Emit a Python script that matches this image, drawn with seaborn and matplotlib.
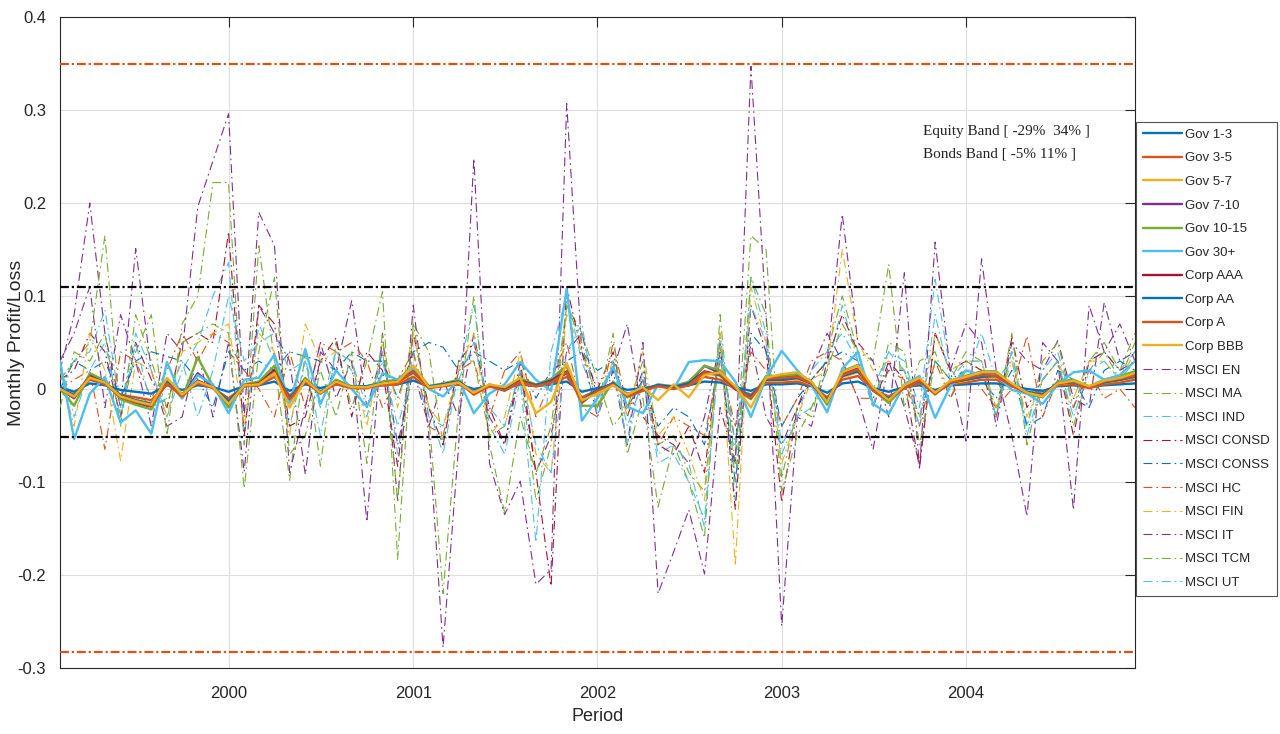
import numpy as np
import pandas as pd
import matplotlib
matplotlib.use("Agg")
import matplotlib.pyplot as plt
from matplotlib.ticker import FuncFormatter, MultipleLocator
from matplotlib.lines import Line2D
import seaborn as sns

# ---------------- data ----------------
dates = pd.date_range("1999-02-01", periods=71, freq="MS")

series_names = ["Gov 1-3", "Gov 3-5", "Gov 5-7", "Gov 7-10", "Gov 10-15", "Gov 30+",
                "Corp AAA", "Corp AA", "Corp A", "Corp BBB",
                "MSCI EN", "MSCI MA", "MSCI IND", "MSCI CONSD", "MSCI CONSS",
                "MSCI HC", "MSCI FIN", "MSCI IT", "MSCI TCM", "MSCI UT"]

gov_1_3 = [0.002, -0.003, 0.006, 0.004, -0.001, -0.003, -0.005, 0.004, -0.001, 0.004,
           0.002, -0.003, 0.003, 0.004, 0.008, -0.002, 0.005, 0.001, 0.005, 0.003,
           0.003, 0.004, 0.005, 0.009, 0.003, 0.004, 0.005, 0.000, 0.003, 0.001,
           0.005, 0.003, 0.005, 0.008, -0.003, 0.001, 0.004, -0.001, 0.001, 0.003,
           0.003, 0.004, 0.008, 0.007, 0.002, -0.002, 0.005, 0.005, 0.006, 0.003,
           -0.004, 0.006, 0.008, 0.001, -0.003, 0.002, 0.004, -0.001, 0.004, 0.005,
           0.006, 0.006, 0.003, 0.000, -0.002, 0.003, 0.004, 0.002, 0.004, 0.005,
           0.006]
gov_3_5 = [0.000, -0.006, 0.010, 0.005, -0.006, -0.009, -0.012, 0.005, -0.005, 0.006,
           0.001, -0.010, 0.003, 0.004, 0.013, -0.007, 0.007, -0.003, 0.005, 0.001,
           0.002, 0.004, 0.005, 0.013, 0.001, 0.003, 0.005, -0.003, 0.003, -0.001,
           0.006, 0.003, 0.006, 0.013, -0.009, -0.001, 0.004, -0.005, -0.001, 0.003,
           0.001, 0.004, 0.013, 0.010, 0.000, -0.006, 0.007, 0.007, 0.008, 0.004,
           -0.009, 0.010, 0.014, -0.001, -0.008, 0.001, 0.006, -0.003, 0.005, 0.007,
           0.010, 0.010, 0.003, -0.003, -0.005, 0.004, 0.005, 0.001, 0.005, 0.007,
           0.010]
gov_5_7 = [0.000, -0.008, 0.012, 0.006, -0.008, -0.012, -0.015, 0.006, -0.007, 0.008,
           0.002, -0.014, 0.003, 0.005, 0.017, -0.009, 0.009, -0.003, 0.007, 0.002,
           0.002, 0.005, 0.007, 0.017, 0.002, 0.004, 0.007, -0.004, 0.003, -0.001,
           0.008, 0.003, 0.008, 0.017, -0.012, -0.001, 0.005, -0.006, -0.001, 0.003,
           0.002, 0.005, 0.017, 0.014, 0.000, -0.008, 0.009, 0.009, 0.011, 0.005,
           -0.012, 0.013, 0.018, -0.001, -0.010, 0.002, 0.008, -0.004, 0.006, 0.009,
           0.013, 0.013, 0.003, -0.003, -0.006, 0.005, 0.007, 0.002, 0.007, 0.009,
           0.013]
gov_7_10 = [0.000, -0.010, 0.015, 0.007, -0.009, -0.015, -0.019, 0.008, -0.008, 0.017,
            0.002, -0.017, 0.004, 0.006, 0.021, -0.012, 0.011, -0.004, 0.008, 0.002,
            0.002, 0.006, 0.008, 0.021, 0.002, 0.005, 0.008, -0.005, 0.004, -0.001,
            0.010, 0.004, 0.010, 0.025, -0.015, -0.001, 0.006, -0.007, -0.001, 0.004,
            0.002, 0.006, 0.025, 0.017, 0.000, -0.009, 0.012, 0.012, 0.014, 0.006,
            -0.015, 0.016, 0.022, -0.001, -0.013, 0.002, 0.009, -0.005, 0.007, 0.012,
            0.016, 0.016, 0.004, -0.004, -0.007, 0.006, 0.008, 0.002, 0.008, 0.012,
            0.016]
gov_10_15 = [0.000, -0.018, 0.017, 0.009, -0.011, -0.017, -0.022, 0.009, -0.010, 0.034,
             0.003, -0.020, 0.005, 0.008, 0.025, -0.014, 0.012, -0.005, 0.010, 0.003,
             0.003, 0.008, 0.010, 0.025, 0.003, 0.006, 0.010, -0.006, 0.005, -0.001,
             0.011, 0.005, 0.011, 0.025, -0.018, -0.018, 0.008, -0.009, -0.001, 0.005,
             0.003, 0.008, 0.025, 0.020, 0.000, -0.011, 0.014, 0.014, 0.016, 0.008,
             -0.017, 0.019, 0.026, -0.001, -0.015, 0.003, 0.011, -0.006, 0.009, 0.014,
             0.019, 0.019, 0.005, -0.005, -0.009, 0.008, 0.010, 0.003, 0.010, 0.014,
             0.019]
gov_30 = [0.030, -0.054, -0.005, 0.013, -0.036, -0.023, -0.048, 0.029, -0.010, 0.015,
          0.005, -0.026, 0.010, 0.012, 0.037, -0.015, 0.043, -0.016, 0.020, 0.000,
          -0.019, 0.017, 0.010, 0.022, 0.000, -0.008, 0.010, -0.026, -0.005, 0.005,
          0.029, 0.010, -0.002, 0.108, -0.034, -0.010, 0.024, -0.019, -0.026, 0.005,
          0.000, 0.029, 0.031, 0.030, 0.008, -0.030, 0.012, 0.041, 0.020, 0.004,
          -0.025, 0.022, 0.040, -0.016, -0.027, 0.005, 0.014, -0.031, 0.003, 0.020,
          0.015, 0.015, -0.001, -0.005, -0.016, 0.005, 0.018, 0.020, 0.010, 0.015,
          0.030]
corp_aaa = [0.000, -0.008, 0.013, 0.007, -0.008, -0.013, -0.017, 0.007, -0.007, 0.009,
            0.002, -0.015, 0.004, 0.006, 0.019, -0.010, 0.010, -0.004, 0.008, 0.002,
            0.002, 0.006, 0.008, 0.019, 0.002, 0.005, 0.008, -0.005, 0.004, -0.001,
            0.009, 0.004, 0.009, 0.019, -0.013, -0.001, 0.006, -0.007, -0.001, 0.004,
            0.002, 0.006, 0.019, 0.015, 0.000, -0.009, 0.010, 0.010, 0.012, 0.006,
            -0.013, 0.014, 0.020, -0.001, -0.011, 0.002, 0.009, -0.005, 0.007, 0.010,
            0.014, 0.014, 0.004, -0.004, -0.007, 0.006, 0.008, 0.002, 0.008, 0.010,
            0.014]
corp_aa = [0.001, -0.007, 0.012, 0.006, -0.007, -0.012, -0.016, 0.007, -0.006, 0.008,
           0.002, -0.013, 0.004, 0.005, 0.017, -0.009, 0.009, -0.003, 0.007, 0.002,
           0.003, 0.006, 0.008, 0.018, 0.003, 0.005, 0.008, -0.004, 0.004, 0.000,
           0.008, 0.004, 0.008, 0.017, -0.012, -0.001, 0.006, -0.006, 0.000, 0.004,
           0.002, 0.006, 0.018, 0.015, 0.001, -0.008, 0.010, 0.010, 0.012, 0.006,
           -0.012, 0.014, 0.019, 0.000, -0.010, 0.002, 0.008, -0.004, 0.007, 0.010,
           0.013, 0.014, 0.004, -0.003, -0.006, 0.006, 0.007, 0.002, 0.007, 0.010,
           0.013]
corp_a = [0.000, -0.009, 0.013, 0.006, -0.009, -0.014, -0.018, 0.006, -0.008, 0.008,
          0.001, -0.016, 0.003, 0.005, 0.018, -0.011, 0.009, -0.005, 0.007, 0.001,
          0.001, 0.005, 0.007, 0.019, 0.001, 0.004, 0.007, -0.006, 0.003, -0.002,
          0.008, 0.003, 0.007, 0.018, -0.014, -0.002, 0.005, -0.008, -0.002, 0.003,
          0.000, 0.004, 0.018, 0.016, 0.001, -0.010, 0.011, 0.012, 0.013, 0.006,
          -0.014, 0.015, 0.021, -0.002, -0.012, 0.001, 0.009, -0.005, 0.007, 0.011,
          0.015, 0.014, 0.003, -0.004, -0.007, 0.005, 0.008, 0.001, 0.008, 0.011,
          0.014]
corp_bbb = [0.000, -0.008, 0.012, 0.007, -0.008, -0.013, -0.017, 0.012, -0.006, 0.008,
            0.002, -0.016, 0.004, 0.005, 0.017, -0.020, 0.010, -0.004, 0.008, 0.002,
            0.002, 0.006, 0.008, 0.025, 0.002, 0.004, 0.007, -0.004, 0.005, 0.002,
            0.012, -0.026, -0.014, 0.028, -0.012, -0.005, 0.004, -0.006, 0.002, -0.012,
            0.005, -0.009, 0.015, 0.018, 0.003, -0.020, 0.012, 0.016, 0.018, 0.008,
            -0.014, 0.018, 0.025, 0.002, -0.012, 0.004, 0.012, -0.004, 0.009, 0.013,
            0.018, 0.018, 0.006, -0.004, -0.008, 0.006, 0.009, 0.003, 0.009, 0.012,
            0.017]
msci_en = [0.020, 0.080, 0.200, 0.060, -0.020, 0.151, 0.020, -0.040, -0.030, 0.040,
           -0.030, 0.050, -0.089, 0.090, 0.060, 0.030, -0.092, 0.040, 0.020, 0.095,
           -0.020, 0.040, -0.060, 0.020, -0.040, 0.010, -0.030, 0.060, -0.030, -0.060,
           0.020, -0.090, -0.050, 0.040, 0.060, -0.010, 0.020, 0.070, -0.030, -0.050,
           -0.060, -0.080, -0.030, 0.050, -0.060, 0.050, -0.030, -0.060, -0.020, 0.020,
           0.060, 0.030, -0.010, -0.065, 0.030, -0.020, -0.080, 0.060, 0.020, 0.070,
           0.050, -0.040, 0.050, 0.030, 0.020, 0.052, -0.010, -0.020, 0.093, 0.030,
           0.040]
msci_ma = [0.010, 0.030, 0.050, 0.165, -0.030, 0.040, 0.080, -0.050, 0.070, 0.100,
           0.222, 0.222, -0.060, 0.154, 0.030, -0.098, 0.040, -0.083, 0.050, -0.020,
           0.030, 0.105, -0.183, 0.070, 0.040, -0.060, 0.030, 0.030, -0.050, -0.040,
           0.020, -0.120, -0.060, 0.090, 0.060, 0.010, -0.040, -0.020, 0.030, -0.060,
           -0.050, -0.090, -0.110, 0.060, -0.080, 0.165, 0.150, -0.096, -0.020, -0.030,
           0.040, 0.100, 0.040, 0.030, 0.134, -0.020, 0.030, 0.040, -0.010, 0.030,
           0.020, -0.020, 0.040, -0.040, 0.030, 0.050, -0.020, 0.030, 0.050, 0.020,
           0.060]
msci_ind = [0.010, 0.030, 0.040, 0.085, -0.020, 0.060, 0.020, -0.030, 0.020, 0.050,
            0.100, 0.136, -0.050, 0.070, 0.030, -0.040, 0.030, -0.050, 0.040, 0.020,
            -0.030, 0.040, -0.070, 0.040, -0.020, -0.070, 0.020, 0.090, -0.040, -0.070,
            0.010, -0.165, 0.040, 0.100, 0.030, -0.020, 0.030, -0.040, 0.010, -0.070,
            -0.060, -0.080, -0.149, 0.060, -0.120, 0.120, 0.060, -0.060, -0.030, -0.020,
            0.020, 0.090, 0.030, 0.000, 0.040, 0.030, -0.020, 0.118, 0.020, 0.010,
            0.060, 0.010, 0.030, -0.040, 0.020, 0.040, -0.020, 0.030, 0.040, 0.020,
            0.040]
msci_consd = [0.010, 0.020, 0.060, 0.040, -0.030, 0.050, 0.010, -0.020, 0.050, 0.060,
              0.050, 0.169, -0.050, 0.090, 0.070, -0.040, -0.030, 0.030, 0.055, -0.030,
              0.040, 0.020, -0.083, 0.060, -0.020, -0.060, 0.030, 0.050, -0.020, -0.060,
              0.030, -0.090, -0.212, 0.110, 0.040, 0.000, 0.040, -0.030, 0.020, -0.060,
              -0.070, -0.040, -0.090, 0.050, -0.130, 0.090, 0.040, -0.122, -0.020, 0.010,
              0.030, 0.080, 0.040, -0.020, 0.030, 0.010, -0.085, 0.060, 0.020, 0.030,
              0.020, -0.030, 0.055, -0.020, 0.010, 0.030, -0.050, 0.030, 0.040, 0.020,
              0.030]
msci_conss = [0.000, 0.030, 0.020, 0.030, -0.010, 0.030, 0.040, 0.035, 0.030, 0.010,
              -0.020, 0.040, 0.020, 0.030, 0.020, 0.040, 0.035, 0.030, 0.020, 0.040,
              0.030, 0.030, -0.010, 0.040, 0.050, 0.045, 0.020, 0.040, 0.030, 0.020,
              0.030, -0.010, 0.020, 0.030, 0.040, 0.020, 0.030, -0.020, 0.010, -0.040,
              -0.020, -0.030, -0.060, 0.040, -0.100, 0.060, 0.040, -0.040, -0.010, 0.010,
              0.030, 0.040, 0.030, -0.010, 0.020, 0.020, -0.030, 0.030, 0.010, 0.020,
              0.010, -0.010, 0.020, -0.040, -0.030, 0.020, 0.010, -0.020, 0.020, 0.030,
              0.020]
msci_hc = [0.000, 0.010, 0.020, -0.065, 0.040, 0.030, -0.010, 0.020, 0.060, 0.030,
           0.060, 0.050, 0.020, 0.000, -0.030, 0.040, -0.020, 0.050, 0.040, 0.050,
           0.030, -0.020, 0.010, 0.040, -0.040, -0.050, 0.020, 0.030, -0.030, 0.020,
           0.040, -0.030, 0.010, 0.050, -0.020, -0.030, 0.050, -0.020, 0.010, -0.060,
           -0.030, -0.040, -0.050, 0.030, -0.040, 0.040, 0.020, -0.040, -0.010, 0.030,
           0.040, 0.030, -0.010, -0.010, 0.020, 0.010, -0.040, 0.030, -0.010, 0.020,
           0.000, -0.020, 0.000, 0.057, -0.030, 0.010, -0.020, 0.020, -0.010, 0.000,
           -0.020]
msci_fin = [0.020, -0.040, 0.060, 0.020, -0.077, 0.030, 0.020, -0.030, 0.040, 0.050,
            0.060, 0.070, -0.040, 0.060, 0.040, -0.050, 0.070, 0.030, 0.040, 0.030,
            -0.040, 0.050, -0.020, 0.060, -0.020, -0.040, 0.020, 0.060, -0.050, -0.030,
            0.040, -0.070, -0.090, 0.080, 0.040, -0.010, 0.030, -0.030, 0.040, -0.050,
            -0.030, -0.070, -0.120, 0.060, -0.190, 0.110, 0.050, -0.080, -0.030, 0.010,
            0.020, 0.150, 0.050, 0.020, 0.030, 0.020, -0.030, 0.060, 0.020, 0.030,
            0.030, -0.020, 0.030, -0.030, 0.010, 0.030, -0.010, 0.030, 0.030, 0.010,
            0.040]
msci_it = [0.030, 0.060, 0.110, -0.020, 0.080, 0.030, -0.040, 0.060, 0.040, 0.196,
           0.245, 0.296, -0.030, 0.190, 0.154, -0.090, -0.020, 0.050, -0.010, 0.030,
           -0.143, 0.060, -0.120, 0.090, -0.050, -0.278, -0.060, 0.248, -0.080, -0.135,
           -0.099, -0.210, -0.194, 0.307, 0.040, -0.030, 0.020, -0.060, 0.050, -0.220,
           -0.175, -0.130, -0.199, -0.020, -0.080, 0.347, 0.080, -0.255, -0.030, -0.040,
           0.030, 0.188, 0.050, 0.030, -0.030, 0.125, -0.085, 0.158, 0.020, -0.056,
           0.140, 0.020, -0.050, -0.137, 0.050, 0.030, -0.130, 0.090, 0.040, 0.070,
           0.030]
msci_tcm = [-0.020, 0.040, 0.030, 0.060, -0.040, 0.080, 0.030, -0.020, 0.050, 0.060,
            0.070, 0.060, -0.107, 0.040, 0.120, -0.070, -0.050, 0.020, -0.030, 0.040,
            -0.080, 0.060, -0.120, 0.070, -0.030, -0.220, -0.020, 0.100, -0.060, -0.133,
            -0.030, -0.090, -0.040, 0.090, 0.050, -0.020, 0.060, -0.070, -0.010, -0.127,
            -0.060, -0.100, -0.160, 0.080, -0.100, 0.120, 0.080, -0.110, -0.050, -0.020,
            0.020, 0.070, 0.040, -0.020, 0.050, 0.040, -0.060, 0.030, 0.010, 0.040,
            0.030, -0.030, 0.060, -0.060, 0.010, 0.030, -0.040, 0.020, 0.040, 0.010,
            0.050]
msci_ut = [0.030, -0.030, 0.020, 0.050, -0.030, 0.050, -0.020, -0.010, 0.030, -0.030,
           0.020, 0.100, 0.030, 0.050, 0.060, 0.020, 0.030, -0.020, 0.040, 0.030,
           -0.020, 0.030, -0.040, 0.020, -0.030, -0.040, 0.010, 0.050, -0.020, -0.040,
           0.020, -0.060, -0.090, 0.040, 0.070, -0.030, 0.030, -0.060, 0.020, -0.080,
           -0.070, -0.100, -0.140, 0.050, -0.060, 0.090, 0.050, -0.070, -0.030, 0.020,
           0.040, 0.060, 0.030, -0.020, 0.040, 0.020, -0.040, 0.080, 0.010, 0.030,
           0.030, -0.030, 0.040, -0.050, 0.010, 0.030, -0.030, 0.020, 0.030, 0.010,
           0.030]

series_values = [gov_1_3, gov_3_5, gov_5_7, gov_7_10, gov_10_15, gov_30,
                 corp_aaa, corp_aa, corp_a, corp_bbb,
                 msci_en, msci_ma, msci_ind, msci_consd, msci_conss,
                 msci_hc, msci_fin, msci_it, msci_tcm, msci_ut]

equity_band = [-0.283, 0.35]
bond_band = [-0.052, 0.11]
band_text = "Equity Band [ -29%  34% ]\nBonds Band [ -5% 11% ]"
year_ticks = ["2000", "2001", "2002", "2003", "2004"]

# ---------------- style ----------------
sns.set_style("white")
plt.rcParams["font.family"] = ["Liberation Sans", "DejaVu Sans"]

matlab = ["#0072BD", "#D95319", "#EDB120", "#7E2F8E", "#77AC30", "#4DBEEE", "#A2142F"]
colors = [matlab[i % 7] for i in range(len(series_names))]
txt_col = "#262626"

fig = plt.figure(figsize=(12.8, 7.34), dpi=100)
ax = fig.add_axes([60 / 1280, 66 / 734, 1075 / 1280, 651 / 734])

frames = []
for name, vals in zip(series_names, series_values):
    frames.append(pd.DataFrame({"date": dates, "value": vals, "series": name}))
df = pd.concat(frames, ignore_index=True)

handles = []
for k, name in enumerate(series_names):
    sub = df[df["series"] == name]
    if k < 10:
        kw = dict(lw=1.7, linestyle="-", zorder=4)
    else:
        kw = dict(lw=0.8, linestyle=(0, (8, 3.5, 1.5, 3.5)), zorder=3)
    sns.lineplot(data=sub, x="date", y="value", ax=ax, color=colors[k],
                 legend=False, errorbar=None, **kw)
    handles.append(Line2D([0], [0], color=colors[k],
                          **{kk: v for kk, v in kw.items() if kk != "zorder"}))

band_ls = (0, (4, 1.3, 1, 1.3))
for v in equity_band:
    ax.axhline(v, color="#D95319", lw=1.6, linestyle=band_ls, zorder=6)
for v in bond_band:
    ax.axhline(v, color="black", lw=1.6, linestyle=band_ls, zorder=6)

ax.set_xlim(dates[0], dates[-1])
ax.set_ylim(-0.3, 0.4)
ax.yaxis.set_major_locator(MultipleLocator(0.1))
ax.yaxis.set_major_formatter(FuncFormatter(lambda v, p: "%g" % round(v, 2)))
ax.set_xticks([pd.Timestamp(y + "-01-01") for y in year_ticks])
ax.set_xticklabels(year_ticks)

ax.grid(True, color="#dedede", lw=0.8)
ax.set_axisbelow(True)
for s in ax.spines.values():
    s.set_color(txt_col)
    s.set_linewidth(0.8)
ax.tick_params(axis="both", direction="in", length=7, width=0.8, colors=txt_col,
               labelsize=12, top=True, right=True)
ax.tick_params(axis="x", pad=13)
ax.tick_params(axis="y", pad=10)

ax.set_xlabel("Period", fontsize=13, color=txt_col)
ax.set_ylabel("Monthly Profit/Loss", fontsize=14, color=txt_col)
ax.xaxis.set_label_coords(0.5, -0.062)
ax.yaxis.set_label_coords(-0.033, 0.5)

ax.text(0.803, 0.834, band_text, transform=ax.transAxes, ha="left", va="top",
        fontsize=11, family=["Liberation Serif", "DejaVu Serif"], color="#222222",
        linespacing=1.9, zorder=7)

leg = fig.legend(handles, series_names, loc="upper left",
                 bbox_to_anchor=(1136 / 1280, 1 - 122 / 734),
                 bbox_transform=fig.transFigure, fontsize=9.5, frameon=True,
                 fancybox=False, handlelength=3.0, handletextpad=0.25,
                 labelspacing=0.86, borderpad=0.5, borderaxespad=0)
leg.get_frame().set_edgecolor("#262626")
leg.get_frame().set_linewidth(0.8)
for t in leg.get_texts():
    t.set_color(txt_col)

fig.savefig("out.png", dpi=100)
